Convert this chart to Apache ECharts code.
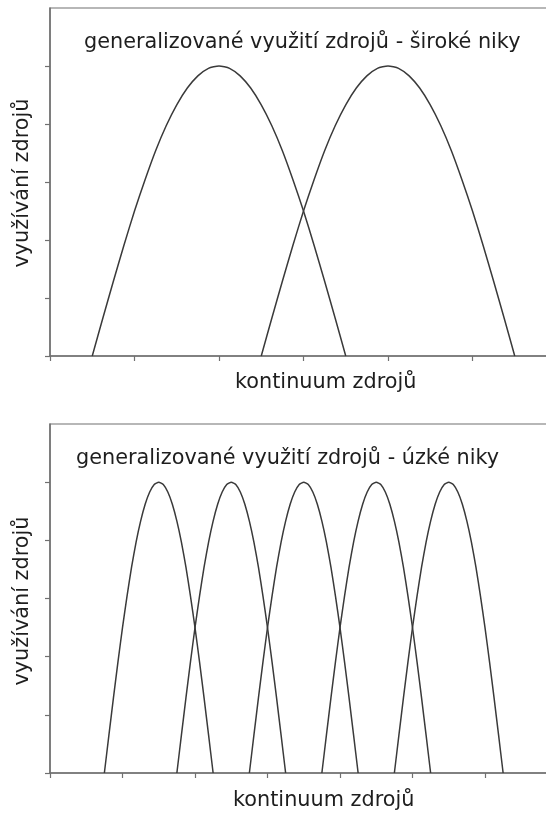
<!DOCTYPE html>
<html>
<head>
<meta charset="utf-8">
<script src="https://cdn.jsdelivr.net/npm/echarts@6/dist/echarts.min.js"></script>
<style>
  html, body { margin: 0; padding: 0; background: #fff; }
  #chart { width: 546px; height: 814px; }
</style>
</head>
<body>
<div id="chart"></div>
<script>
// Resource-utilisation curves along the resource continuum.
// Height of a utilisation curve at each sample (peak = 5), left to right.
const nicheHeight = [0, 0.65, 1.29, 1.91, 2.5, 3.04, 3.54, 3.97, 4.33, 4.62, 4.83, 4.96, 5,
                     4.96, 4.83, 4.62, 4.33, 3.97, 3.54, 3.04, 2.5, 1.91, 1.29, 0.65, 0];

// Sample positions relative to a curve's centre: broad niches.
const broadOffset = [-1.5, -1.375, -1.25, -1.125, -1, -0.875, -0.75, -0.625, -0.5, -0.375, -0.25, -0.125, 0,
                     0.125, 0.25, 0.375, 0.5, 0.625, 0.75, 0.875, 1, 1.125, 1.25, 1.375, 1.5];
// Sample positions relative to a curve's centre: narrow niches.
const narrowOffset = [-0.75, -0.6875, -0.625, -0.5625, -0.5, -0.4375, -0.375, -0.3125, -0.25, -0.1875, -0.125, -0.0625, 0,
                      0.0625, 0.125, 0.1875, 0.25, 0.3125, 0.375, 0.4375, 0.5, 0.5625, 0.625, 0.6875, 0.75];

// Curve centres on the resource continuum.
const broadCentres = [2, 4];
const narrowCentres = [1.5, 2.5, 3.5, 4.5, 5.5];

const titles = {
  broad: 'generalizované využití zdrojů - široké niky',
  narrow: 'generalizované využití zdrojů - úzké niky',
  xName: 'kontinuum zdrojů',
  yName: 'využívání zdrojů'
};

const yTicks = [0, 1, 2, 3, 4, 5];

const FONT = 'DejaVu Sans';
const FONT_SIZE = 20.8;
const AXIS_COLOR = '#707070';
const LINE_COLOR = '#3a3a3a';
const TEXT_COLOR = '#1e1e1e';

function makeSeries(centre, offsets, gridIdx) {
  return {
    type: 'line',
    xAxisIndex: gridIdx,
    yAxisIndex: gridIdx,
    smooth: 0.2,
    showSymbol: false,
    silent: true,
    lineStyle: { color: LINE_COLOR, width: 1.5 },
    data: offsets.map((d, i) => [centre + d, nicheHeight[i]])
  };
}

function xAxis(gridIdx, max) {
  return {
    type: 'value', gridIndex: gridIdx, min: 0, max: max, interval: 1,
    axisLine: { show: true, lineStyle: { color: AXIS_COLOR, width: 1.5 } },
    axisTick: { show: true, length: 5, lineStyle: { color: AXIS_COLOR, width: 1.2 } },
    axisLabel: { show: false },
    splitLine: { show: false }
  };
}

function yAxis(gridIdx) {
  return {
    type: 'value', gridIndex: gridIdx, min: 0, max: 6, interval: 1,
    axisLine: { show: true, lineStyle: { color: AXIS_COLOR, width: 1.5 } },
    axisTick: { show: true, length: 5, customValues: yTicks, lineStyle: { color: AXIS_COLOR, width: 1.2 } },
    axisLabel: { show: false },
    splitLine: { show: false }
  };
}

const textStyle = { fontFamily: FONT, fontSize: FONT_SIZE, fontWeight: 'normal', color: TEXT_COLOR };
const yNameFont = FONT_SIZE + 'px "' + FONT + '"';

// Both plots run past the right edge of the page, so no right border shows.
const gridBase = {
  left: 50, show: true, borderColor: AXIS_COLOR, borderWidth: 1.2,
  backgroundColor: 'transparent', outerBoundsMode: 'none', containLabel: false
};

const chart = echarts.init(document.getElementById('chart'), null, { renderer: 'canvas' });
chart.setOption({
  backgroundColor: '#fff',
  animation: false,
  title: [
    { text: titles.broad, left: 84, top: 32, textStyle: textStyle, padding: 0 },
    { text: titles.narrow, left: 76, top: 448, textStyle: textStyle, padding: 0 },
    { text: titles.xName, left: 235, top: 372, textStyle: textStyle, padding: 0 },
    { text: titles.xName, left: 233, top: 790, textStyle: textStyle, padding: 0 }
  ],
  graphic: [
    { type: 'text', x: 23, y: 183, rotation: Math.PI / 2,
      style: { text: titles.yName, font: yNameFont, fill: TEXT_COLOR, align: 'center', verticalAlign: 'middle' } },
    { type: 'text', x: 23, y: 601, rotation: Math.PI / 2,
      style: { text: titles.yName, font: yNameFont, fill: TEXT_COLOR, align: 'center', verticalAlign: 'middle' } }
  ],
  grid: [
    Object.assign({}, gridBase, { width: 507, top: 8, height: 348 }),
    Object.assign({}, gridBase, { width: 507.5, top: 424, height: 349 })
  ],
  xAxis: [xAxis(0, 6), xAxis(1, 7)],
  yAxis: [yAxis(0), yAxis(1)],
  series: [
    ...broadCentres.map(c => makeSeries(c, broadOffset, 0)),
    ...narrowCentres.map(c => makeSeries(c, narrowOffset, 1))
  ]
});
</script>
</body>
</html>
